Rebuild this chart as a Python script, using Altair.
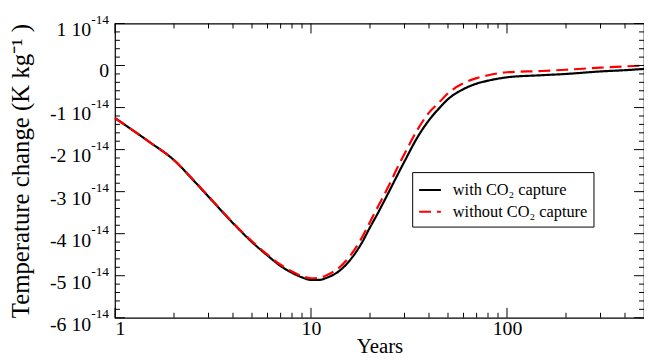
import altair as alt
import pandas as pd

# ---- data (values in units of 1e-14 K/kg) ----
years = [1, 1.5, 2, 2.5, 3, 4, 5, 6, 7, 8, 9, 10, 11, 12, 14, 16, 18, 20, 22, 25, 28, 30,
         35, 40, 45, 50, 60, 70, 80, 100, 150, 200, 300, 400, 500]
with_capture = [-1.25, -1.82, -2.25, -2.72, -3.12, -3.75, -4.2, -4.52, -4.77, -4.93, -5.04, -5.1,
                -5.1, -5.05, -4.88, -4.6, -4.25, -3.85, -3.5, -3.0, -2.55, -2.28,
                -1.7, -1.3, -1.02, -0.8, -0.56, -0.43, -0.36, -0.28, -0.23, -0.2, -0.14, -0.11, -0.08]
without_capture = [-1.25, -1.82, -2.25, -2.71, -3.11, -3.74, -4.18, -4.5, -4.74, -4.9, -5.01, -5.06,
                   -5.05, -4.99, -4.8, -4.5, -4.13, -3.72, -3.35, -2.85, -2.37, -2.1,
                   -1.52, -1.12, -0.88, -0.66, -0.42, -0.3, -0.23, -0.16, -0.13, -0.1, -0.05, -0.02, 0.0]
series = ["with CO\u2082 capture", "without CO\u2082 capture"]

y_ticks = [1, 0, -1, -2, -3, -4, -5, -6]
y_main = ["1 10", "0", "-1 10", "-2 10", "-3 10", "-4 10", "-5 10", "-6 10"]
y_sup = ["-14", "", "-14", "-14", "-14", "-14", "-14", "-14"]
y_minor = [0.8, 0.6, 0.4, 0.2, -0.2, -0.4, -0.6, -0.8, -1.2, -1.4, -1.6, -1.8, -2.2, -2.4, -2.6, -2.8,
           -3.2, -3.4, -3.6, -3.8, -4.2, -4.4, -4.6, -4.8, -5.2, -5.4, -5.6, -5.8]
x_major = [1, 10, 100]
x_minor = [2, 3, 4, 5, 6, 7, 8, 9, 20, 30, 40, 50, 60, 70, 80, 90, 200, 300, 400]

W, H = 534, 297
FONT = "Liberation Serif, Times New Roman, Times, serif"

df = pd.DataFrame({
    "t": years * 2,
    "v": with_capture + without_capture,
    "series": [series[0]] * len(years) + [series[1]] * len(years),
})
ylab = pd.DataFrame({"v": y_ticks, "main": y_main, "sup": y_sup})

xscale = alt.Scale(type="log", domain=[1, 500], nice=False)
yscale = alt.Scale(domain=[-6, 1], nice=False, zero=False)

xaxis = alt.Axis(values=x_major, format="d", ticks=False, grid=False, domain=False,
                 labelFont=FONT, labelFontSize=20, labelColor="black", labelPadding=1,
                 title="Years", titleFont=FONT, titleFontSize=21, titleFontWeight="normal",
                 titleColor="black", titlePadding=-3)
yaxis = alt.Axis(labels=False, ticks=False, grid=False, domain=False,
                 title="Temperature change (K kg\u207b\u00b9 )", titleFont=FONT,
                 titleFontSize=25, titleFontWeight="normal", titleColor="black",
                 titlePadding=82)

legend = alt.Legend(title=None, orient="none", legendX=300, legendY=150, strokeColor="black",
                    fillColor="white", padding=6, labelFont=FONT, labelFontSize=16.5,
                    labelColor="black", symbolSize=484, symbolType="stroke", symbolStrokeWidth=2,
                    labelOffset=11, rowPadding=1, cornerRadius=0)

lines = alt.Chart(df).mark_line(strokeWidth=2.2, interpolate="monotone").encode(
    x=alt.X("t:Q", scale=xscale, axis=xaxis),
    y=alt.Y("v:Q", scale=yscale, axis=yaxis),
    color=alt.Color("series:N", scale=alt.Scale(domain=series, range=["black", "#ff0000"]),
                    legend=legend),
    strokeDash=alt.StrokeDash("series:N", scale=alt.Scale(domain=series, range=[[1, 0], [12, 6]]),
                              legend=legend),
)

def xrules(vals, length, top):
    d = pd.DataFrame({"t": vals})
    if top:
        y0, y1 = 0, length
    else:
        y0, y1 = H, H - length
    return alt.Chart(d).mark_rule(color="black", strokeWidth=1).encode(
        x=alt.X("t:Q", scale=xscale, axis=xaxis), y=alt.value(y0), y2=alt.value(y1))

def yrules(vals, length, right):
    d = pd.DataFrame({"v": vals})
    if right:
        x0, x1 = W, W - length
    else:
        x0, x1 = 0, length
    return alt.Chart(d).mark_rule(color="black", strokeWidth=1).encode(
        y=alt.Y("v:Q", scale=yscale, axis=yaxis), x=alt.value(x0), x2=alt.value(x1))

ticks = [xrules(x_major, 10, False), xrules(x_major, 10, True),
         xrules(x_minor, 5, False), xrules(x_minor, 5, True),
         yrules(y_ticks, 10, False), yrules(y_ticks, 10, True),
         yrules(y_minor, 5, False), yrules(y_minor, 5, True)]

main_lab = alt.Chart(ylab).transform_filter("datum.sup != ''").mark_text(
    font=FONT, fontSize=20, align="right", baseline="alphabetic", dy=13, color="black"
).encode(y=alt.Y("v:Q", scale=yscale, axis=yaxis), x=alt.value(-24), text="main:N")

sup_lab = alt.Chart(ylab).transform_filter("datum.sup != ''").mark_text(
    font=FONT, fontSize=13.5, align="right", baseline="alphabetic", dy=0, color="black"
).encode(y=alt.Y("v:Q", scale=yscale, axis=yaxis), x=alt.value(-6), text="sup:N")

zero_lab = alt.Chart(ylab).transform_filter("datum.sup == ''").mark_text(
    font=FONT, fontSize=20, align="right", baseline="alphabetic", dy=12, color="black"
).encode(y=alt.Y("v:Q", scale=yscale, axis=yaxis), x=alt.value(-6), text="main:N")

chart = alt.layer(lines, *ticks, main_lab, sup_lab, zero_lab).properties(
    width=W, height=H,
    background="white",
    autosize=alt.AutoSizeParams(type="none"),
    padding={"left": 108, "top": 14, "right": 0, "bottom": 41},
).configure_view(
    stroke="black", strokeWidth=1.2
)

chart.save("out.html", embed_options={"renderer": "svg", "actions": False})
